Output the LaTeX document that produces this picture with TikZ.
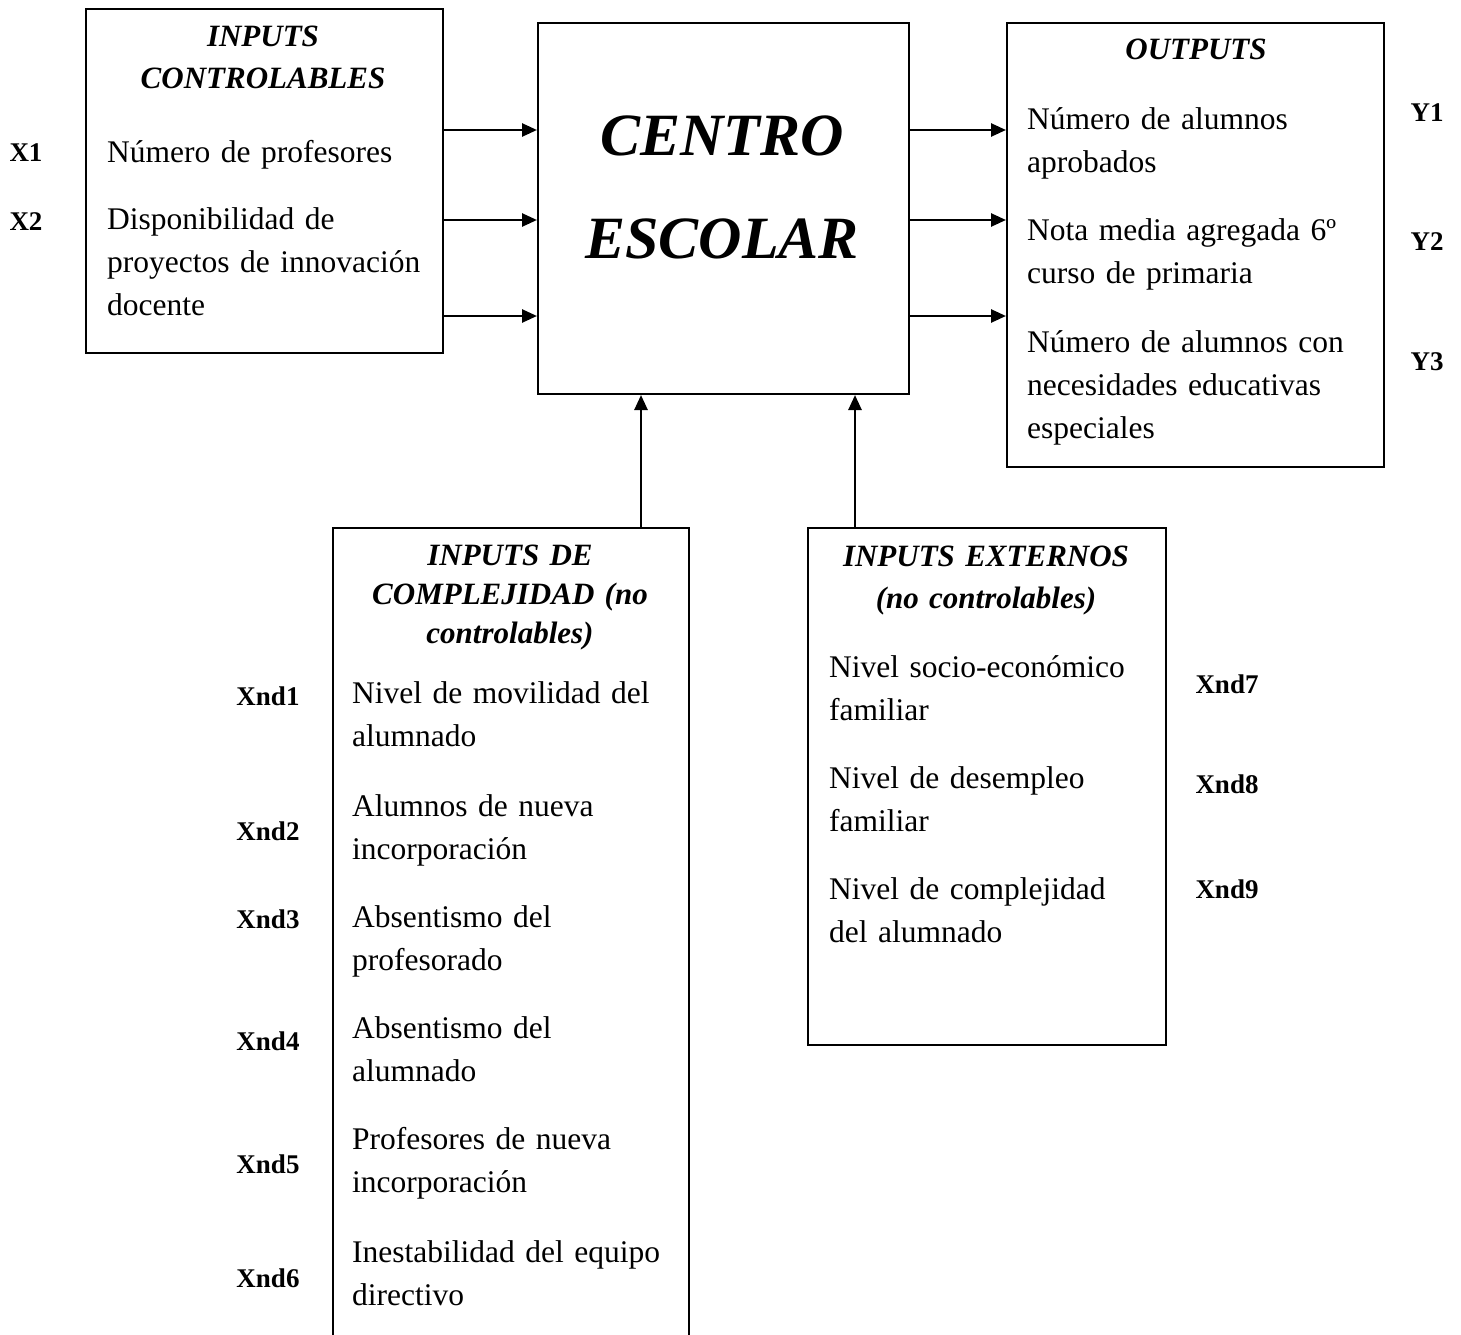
\documentclass[tikz,border=0pt]{standalone}
\usepackage{fontspec}
\setmainfont{Liberation Serif}
\usetikzlibrary{arrows.meta}
\tikzset{
  box/.style={draw, line width=2pt, anchor=north west, inner sep=0pt},
  arr/.style={line width=2.6pt, -{Triangle[length=15pt,width=13pt]}},
  item/.style={anchor=base west, inner sep=0pt, align=left, text width=340pt,
    font=\fontsize{31.5}{43}\selectfont},
  ttl/.style={anchor=base, inner sep=0pt, align=center, text width=340pt,
    font=\fontsize{31}{40}\selectfont\bfseries\itshape},
  lbl/.style={anchor=base, inner sep=0pt, font=\fontsize{27}{30}\selectfont\bfseries},
  big/.style={anchor=base, inner sep=0pt, font=\fontsize{60}{70}\selectfont\bfseries\itshape}
}
\begin{document}
\begin{tikzpicture}[x=1pt,y=-1pt]
\useasboundingbox (0,0) rectangle (1461,1335);
% boxes
\node[box, minimum width=357pt, minimum height=344pt] (ic) at (85,8) {};
\node[box, minimum width=371pt, minimum height=371pt] (cen) at (537,22) {};
\node[box, minimum width=377pt, minimum height=444pt] (out) at (1006,22) {};
\node[box, minimum width=356pt, minimum height=840pt] (comp) at (332,527) {};
\node[box, minimum width=358pt, minimum height=517pt] (ext) at (807,527) {};
% levels
\coordinate (r1) at (0,130);
\coordinate (r2) at (0,220);
\coordinate (r3) at (0,316);
\coordinate (v1) at (641,0);
\coordinate (v2) at (855,0);
% connectors
\draw[arr] (ic.east |- r1) -- (cen.west |- r1);
\draw[arr] (ic.east |- r2) -- (cen.west |- r2);
\draw[arr] (ic.east |- r3) -- (cen.west |- r3);
\draw[arr] (cen.east |- r1) -- (out.west |- r1);
\draw[arr] (cen.east |- r2) -- (out.west |- r2);
\draw[arr] (cen.east |- r3) -- (out.west |- r3);
\draw[arr] (comp.north -| v1) -- (cen.south -| v1);
\draw[arr] (ext.north -| v2) -- (cen.south -| v2);
% inputs controlables
\node[ttl] (t1a) at (263,47) {INPUTS};
\node[ttl] (t1b) at (263,89) {CONTROLABLES};
\node[item] (i1) at (107,162) {Número de profesores};
\node[item] (i2) at (107,229) {Disponibilidad de\\proyectos de innovación\\docente};
\node[lbl] (x1) at (26,161) {X1};
\node[lbl] (x2) at (26,230) {X2};
% centro
\node[big] (c1) at (722,155) {CENTRO};
\node[big] (c2) at (722,258) {ESCOLAR};
% outputs
\node[ttl] (t3) at (1196,60) {OUTPUTS};
\node[item] (o1) at (1027,130) {Número de alumnos\\aprobados};
\node[item] (o2) at (1027,240) {Nota media agregada 6º\\curso de primaria};
\node[item] (o3) at (1027,352) {Número de alumnos con\\necesidades educativas\\especiales};
\node[lbl] (y1) at (1427,122) {Y1};
\node[lbl] (y2) at (1427,250) {Y2};
\node[lbl] (y3) at (1427,370) {Y3};
% complejidad
\node[ttl] (t4a) at (510,565) {INPUTS DE};
\node[ttl] (t4b) at (510,604) {COMPLEJIDAD (no};
\node[ttl] (t4c) at (510,643) {controlables)};
\node[item] (k1) at (352,703) {Nivel de movilidad del\\alumnado};
\node[item] (k2) at (352,816) {Alumnos de nueva\\incorporación};
\node[item] (k3) at (352,927) {Absentismo del\\profesorado};
\node[item] (k4) at (352,1038) {Absentismo del\\alumnado};
\node[item] (k5) at (352,1149) {Profesores de nueva\\incorporación};
\node[item] (k6) at (352,1262) {Inestabilidad del equipo\\directivo};
\node[lbl] (n1) at (268,705) {Xnd1};
\node[lbl] (n2) at (268,840) {Xnd2};
\node[lbl] (n3) at (268,928) {Xnd3};
\node[lbl] (n4) at (268,1050) {Xnd4};
\node[lbl] (n5) at (268,1173) {Xnd5};
\node[lbl] (n6) at (268,1287) {Xnd6};
% externos
\node[ttl] (t5a) at (986,566) {INPUTS EXTERNOS};
\node[ttl] (t5b) at (986,608) {(no controlables)};
\node[item] (e1) at (829,677) {Nivel socio-económico\\familiar};
\node[item] (e2) at (829,788) {Nivel de desempleo\\familiar};
\node[item] (e3) at (829,899) {Nivel de complejidad\\del alumnado};
\node[lbl] (n7) at (1227,693) {Xnd7};
\node[lbl] (n8) at (1227,793) {Xnd8};
\node[lbl] (n9) at (1227,898) {Xnd9};
\end{tikzpicture}
\end{document}
